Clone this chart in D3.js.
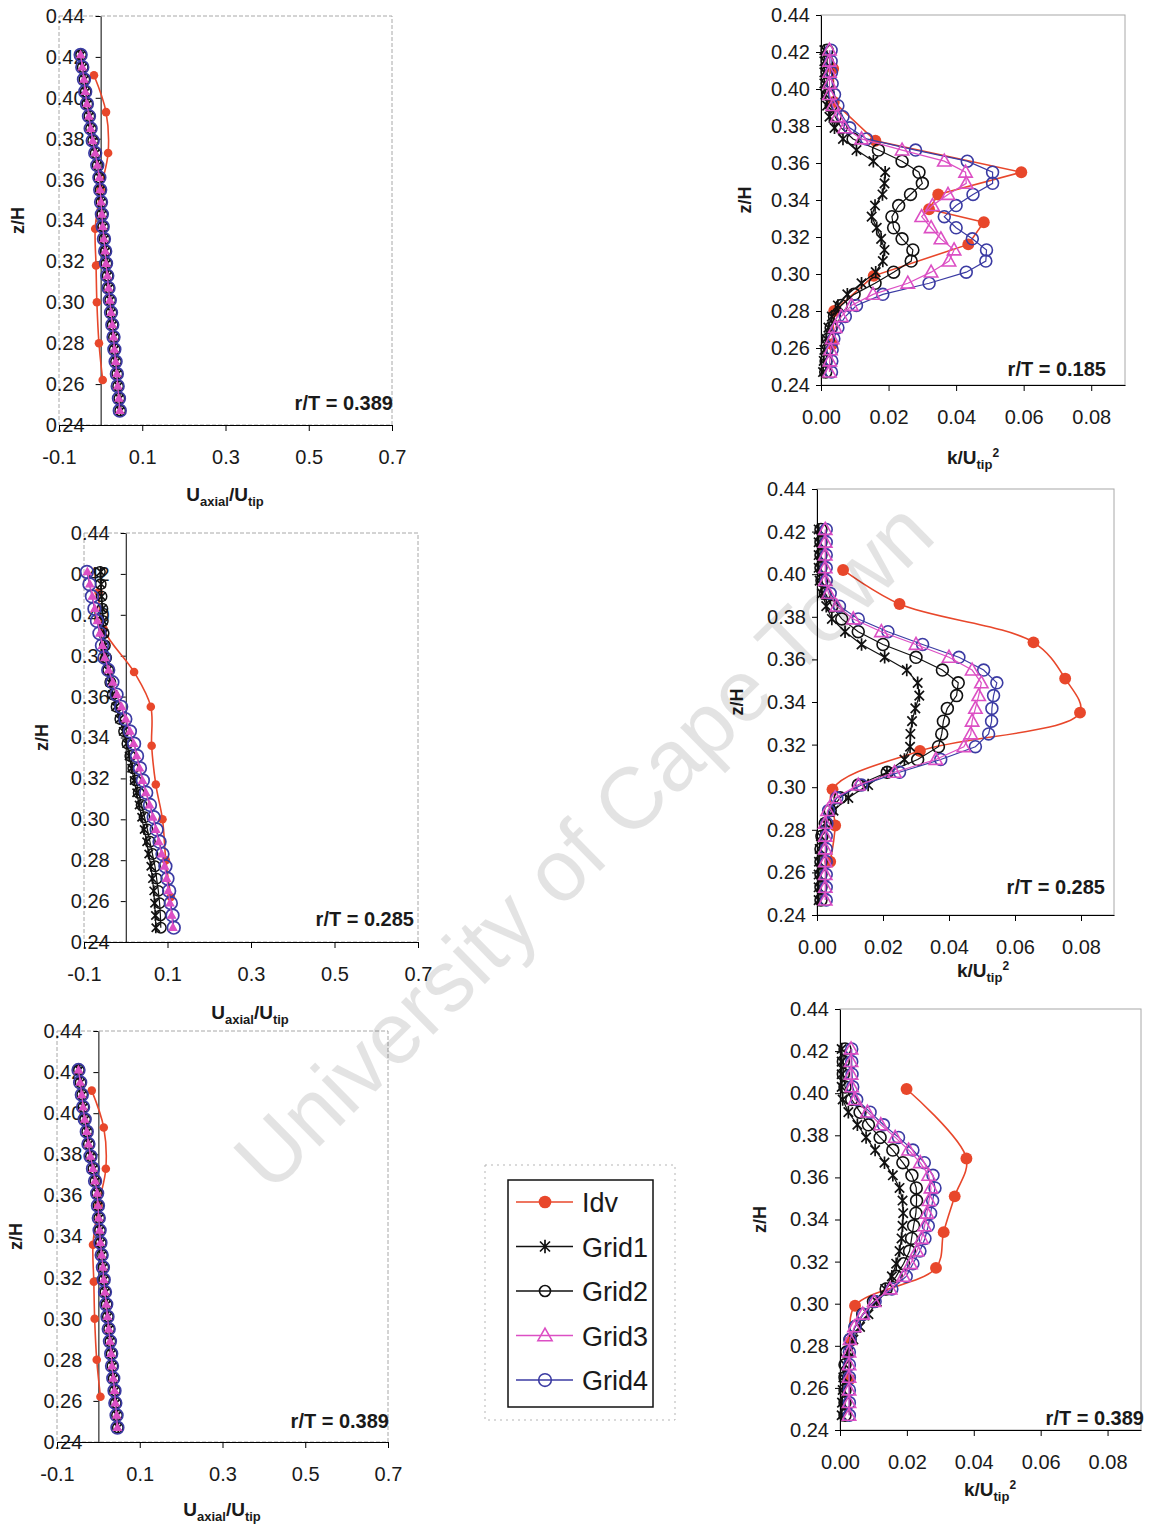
<!DOCTYPE html>
<html>
<head>
<meta charset="utf-8">
<style>
body { margin: 0; background: #fff; }
svg { display: block; font-family: "Liberation Sans", Arial, Helvetica, sans-serif; }
.tick text { font-size: 20px; fill: #1a1a1a; }
.tick line, .domain { stroke: #000; }
</style>
</head>
<body>
<script src="https://cdnjs.cloudflare.com/ajax/libs/d3/7.8.5/d3.min.js"></script>
<script>

// z/H levels of the CFD grid profiles (top to bottom)
var zGrid = [0.421,0.415,0.409,0.403,0.397,0.391,0.385,0.379,0.373,0.367,0.361,0.355,0.349,0.343,0.337,
             0.331,0.325,0.319,0.313,0.307,0.301,0.295,0.289,0.283,0.277,0.271,0.265,0.259,0.253,0.247];

var seriesNames   = ["Idv", "Grid1", "Grid2", "Grid3", "Grid4"];
var seriesColors  = ["#e8472b", "#111111", "#111111", "#dc4fc4", "#3b3ba3"];
var seriesMarkers = ["dot", "star", "ring", "tri", "ring"];

var zTicks = [0.24,0.26,0.28,0.30,0.32,0.34,0.36,0.38,0.40,0.42,0.44];
var uTicks = [-0.1, 0.1, 0.3, 0.5, 0.7];
var kTicks = [0, 0.02, 0.04, 0.06, 0.08];

// --- axial velocity, r/T = 0.389
var p1IdvZ = [0.411,0.393,0.373,0.355,0.336,0.318,0.300,0.280,0.262];
var p1Idv  = [-0.016,0.013,0.018,0.000,-0.013,-0.011,-0.009,-0.004,0.005];
var p1Grid1 = [-0.046,-0.042,-0.038,-0.035,-0.031,-0.026,-0.022,-0.017,-0.011,-0.006,-0.002,0.001,0.003,0.005,0.007,0.010,0.013,0.015,0.018,0.021,0.024,0.027,0.030,0.033,0.035,0.038,0.041,0.043,0.046,0.048];
var p1Grid2 = [-0.047,-0.043,-0.039,-0.036,-0.032,-0.027,-0.023,-0.018,-0.012,-0.007,-0.003,0.000,0.002,0.004,0.006,0.009,0.012,0.014,0.017,0.020,0.023,0.026,0.029,0.032,0.034,0.037,0.040,0.042,0.045,0.047];
var p1Grid3 = [-0.048,-0.044,-0.040,-0.037,-0.033,-0.028,-0.024,-0.019,-0.013,-0.008,-0.003,-0.001,0.001,0.003,0.005,0.008,0.011,0.013,0.016,0.019,0.022,0.025,0.028,0.031,0.033,0.036,0.039,0.041,0.044,0.046];
var p1Grid4 = [-0.048,-0.044,-0.040,-0.037,-0.033,-0.028,-0.024,-0.019,-0.013,-0.008,-0.003,-0.001,0.001,0.003,0.005,0.008,0.011,0.013,0.016,0.019,0.022,0.025,0.028,0.031,0.033,0.036,0.039,0.041,0.044,0.046];

// --- axial velocity, r/T = 0.285
var p2IdvZ = [0.411,0.393,0.372,0.355,0.336,0.317,0.300,0.280,0.262];
var p2Idv  = [-0.065,-0.053,0.020,0.060,0.062,0.072,0.088,0.096,0.108];
var p2Grid1 = [-0.060,-0.059,-0.058,-0.056,-0.054,-0.052,-0.050,-0.047,-0.043,-0.038,-0.032,-0.024,-0.015,-0.006,0.002,0.008,0.014,0.020,0.026,0.032,0.038,0.044,0.050,0.055,0.060,0.064,0.067,0.069,0.071,0.072];
var p2Grid2 = [-0.062,-0.060,-0.058,-0.056,-0.055,-0.053,-0.050,-0.047,-0.042,-0.037,-0.031,-0.022,-0.013,-0.004,0.004,0.011,0.018,0.024,0.031,0.038,0.045,0.052,0.058,0.064,0.070,0.074,0.078,0.081,0.083,0.084];
var p2Grid3 = [-0.092,-0.086,-0.080,-0.074,-0.068,-0.062,-0.056,-0.050,-0.041,-0.031,-0.021,-0.010,0.000,0.010,0.019,0.026,0.033,0.040,0.048,0.057,0.065,0.072,0.079,0.086,0.093,0.098,0.102,0.106,0.110,0.113];
var p2Grid4 = [-0.093,-0.087,-0.081,-0.075,-0.069,-0.063,-0.057,-0.051,-0.042,-0.032,-0.022,-0.011,-0.001,0.010,0.020,0.027,0.034,0.041,0.049,0.058,0.067,0.074,0.081,0.088,0.095,0.100,0.104,0.108,0.112,0.115];

// --- turbulent kinetic energy, r/T = 0.185
var p4IdvZ = [0.411,0.393,0.372,0.355,0.343,0.335,0.328,0.316,0.299,0.280,0.262];
var p4Idv  = [0.0036,0.0038,0.0161,0.0593,0.0347,0.0320,0.0482,0.0436,0.0156,0.0039,0.0033];
var p4Grid1 = [0.0010,0.0010,0.0010,0.0010,0.0013,0.0018,0.0025,0.0040,0.0065,0.0105,0.0155,0.0190,0.0188,0.0182,0.0160,0.0150,0.0165,0.0178,0.0188,0.0183,0.0162,0.0120,0.0078,0.0050,0.0032,0.0022,0.0015,0.0010,0.0008,0.0006];
var p4Grid2 = [0.0018,0.0018,0.0018,0.0018,0.0022,0.0030,0.0042,0.0060,0.0095,0.0170,0.0240,0.0290,0.0300,0.0265,0.0230,0.0210,0.0215,0.0240,0.0272,0.0267,0.0215,0.0160,0.0098,0.0060,0.0040,0.0030,0.0022,0.0018,0.0015,0.0014];
var p4Grid3 = [0.0025,0.0025,0.0025,0.0025,0.0025,0.0035,0.0048,0.0070,0.0120,0.0240,0.0365,0.0428,0.0430,0.0376,0.0330,0.0298,0.0326,0.0355,0.0394,0.0379,0.0326,0.0257,0.0154,0.0090,0.0060,0.0042,0.0033,0.0028,0.0026,0.0025];
var p4Grid4 = [0.0030,0.0030,0.0031,0.0033,0.0040,0.0050,0.0065,0.0085,0.0135,0.0280,0.0433,0.0508,0.0508,0.0450,0.0400,0.0365,0.0400,0.0448,0.0490,0.0488,0.0430,0.0320,0.0183,0.0105,0.0072,0.0050,0.0038,0.0033,0.0032,0.0031];

// --- turbulent kinetic energy, r/T = 0.285
var p5IdvZ = [0.402,0.386,0.368,0.351,0.335,0.317,0.299,0.282,0.265];
var p5Idv  = [0.0079,0.0250,0.0656,0.0752,0.0797,0.0312,0.0047,0.0055,0.0040];
var p5Grid1 = [0.0005,0.0005,0.0005,0.0005,0.0008,0.0015,0.0028,0.0045,0.0085,0.0135,0.0205,0.0272,0.0305,0.0310,0.0298,0.0288,0.0283,0.0282,0.0265,0.0212,0.0155,0.0095,0.0050,0.0025,0.0012,0.0008,0.0006,0.0005,0.0005,0.0005];
var p5Grid2 = [0.0012,0.0012,0.0012,0.0012,0.0015,0.0025,0.0045,0.0075,0.0125,0.0200,0.0300,0.0380,0.0428,0.0423,0.0395,0.0383,0.0378,0.0368,0.0305,0.0213,0.0125,0.0070,0.0040,0.0025,0.0015,0.0012,0.0012,0.0012,0.0012,0.0012];
var p5Grid3 = [0.0025,0.0025,0.0025,0.0025,0.0025,0.0035,0.0060,0.0110,0.0195,0.0300,0.0400,0.0470,0.0498,0.0490,0.0480,0.0470,0.0466,0.0445,0.0360,0.0235,0.0125,0.0055,0.0032,0.0025,0.0025,0.0025,0.0025,0.0025,0.0025,0.0025];
var p5Grid4 = [0.0028,0.0028,0.0028,0.0028,0.0028,0.0040,0.0068,0.0125,0.0215,0.0320,0.0430,0.0505,0.0545,0.0535,0.0530,0.0529,0.0520,0.0480,0.0375,0.0250,0.0135,0.0060,0.0035,0.0030,0.0028,0.0028,0.0028,0.0028,0.0028,0.0028];

// --- turbulent kinetic energy, r/T = 0.389
var p6IdvZ = [0.402,0.369,0.351,0.334,0.317,0.299,0.282,0.264];
var p6Idv  = [0.0199,0.0378,0.0343,0.0310,0.0287,0.0045,0.0030,0.0028];
var p6Grid1 = [0.0005,0.0005,0.0005,0.0005,0.0008,0.0025,0.0052,0.0078,0.0105,0.0133,0.0158,0.0178,0.0187,0.0189,0.0187,0.0184,0.0178,0.0168,0.0155,0.0135,0.0110,0.0085,0.0060,0.0040,0.0025,0.0015,0.0010,0.0008,0.0006,0.0005];
var p6Grid2 = [0.0015,0.0010,0.0010,0.0015,0.0035,0.0060,0.0085,0.0120,0.0158,0.0188,0.0215,0.0228,0.0229,0.0227,0.0220,0.0214,0.0208,0.0190,0.0168,0.0138,0.0100,0.0068,0.0045,0.0030,0.0020,0.0015,0.0015,0.0015,0.0015,0.0015];
var p6Grid3 = [0.0033,0.0033,0.0033,0.0035,0.0045,0.0082,0.0122,0.0165,0.0205,0.0240,0.0265,0.0272,0.0266,0.0260,0.0253,0.0244,0.0230,0.0211,0.0190,0.0150,0.0102,0.0068,0.0043,0.0030,0.0027,0.0027,0.0027,0.0027,0.0027,0.0027];
var p6Grid4 = [0.0035,0.0035,0.0036,0.0038,0.0050,0.0090,0.0130,0.0175,0.0218,0.0252,0.0278,0.0284,0.0277,0.0271,0.0264,0.0254,0.0239,0.0218,0.0198,0.0155,0.0105,0.0070,0.0045,0.0030,0.0028,0.0028,0.0028,0.0028,0.0028,0.0028];

// panel layout (pixel boxes) + which data goes where
var panels = [
  {l: 59,  r: 392,  t: 16,   b: 425,  kind: "u", idvZ: p1IdvZ, vals: [p1Idv, p1Grid1, p1Grid2, p1Grid3, p1Grid4], label: "r/T = 0.389", lx: 393,  ly: 410,  tx: 225, ty: 501,  zx: 18,  smooth: true},
  {l: 84,  r: 418,  t: 533,  b: 942,  kind: "u", idvZ: p2IdvZ, vals: [p2Idv, p2Grid1, p2Grid2, p2Grid3, p2Grid4], label: "r/T = 0.285", lx: 414,  ly: 926,  tx: 250, ty: 1019, zx: 42,  smooth: true},
  {l: 57,  r: 388,  t: 1031, b: 1442, kind: "u", idvZ: p1IdvZ, vals: [p1Idv, p1Grid1, p1Grid2, p1Grid3, p1Grid4], label: "r/T = 0.389", lx: 389,  ly: 1428, tx: 222, ty: 1516, zx: 16,  smooth: true},
  {l: 821, r: 1125, t: 15,   b: 385,  kind: "k", idvZ: p4IdvZ, vals: [p4Idv, p4Grid1, p4Grid2, p4Grid3, p4Grid4], label: "r/T = 0.185", lx: 1106, ly: 376,  tx: 973, ty: 464,  zx: 745, smooth: false},
  {l: 817, r: 1114, t: 489,  b: 915,  kind: "k", idvZ: p5IdvZ, vals: [p5Idv, p5Grid1, p5Grid2, p5Grid3, p5Grid4], label: "r/T = 0.285", lx: 1105, ly: 894,  tx: 983, ty: 977,  zx: 737, smooth: true},
  {l: 840, r: 1141, t: 1009, b: 1430, kind: "k", idvZ: p6IdvZ, vals: [p6Idv, p6Grid1, p6Grid2, p6Grid3, p6Grid4], label: "r/T = 0.389", lx: 1144, ly: 1425, tx: 990, ty: 1496, zx: 760, smooth: true}
];

var width = 1152, height = 1526;

var svg = d3.select("body").append("svg")
    .attr("width", width)
    .attr("height", height);

// s = size factor, w = stroke width, solid = fill open markers too
function marker(g, type, color, s, w, solid) {
  if (type === "dot") {
    g.append("circle").attr("r", 5.5 * s).attr("fill", color);
  } else if (type === "ring") {
    g.append("circle").attr("r", 5.5 * s).attr("fill", "none")
      .attr("stroke", color).attr("stroke-width", w);
  } else if (type === "tri") {
    var a = 6.5 * s;
    g.append("path").attr("d", "M0," + (-a) + "L" + (a * 0.95) + "," + (a * 0.7) + "L" + (-a * 0.95) + "," + (a * 0.7) + "Z")
      .attr("fill", solid ? color : "none").attr("stroke", color).attr("stroke-width", w);
  } else if (type === "star") {
    var r = 5.8 * s, d = r * 0.75;
    g.append("path").attr("d", "M0," + (-r) + "V" + r + "M" + (-d) + "," + (-d) + "L" + d + "," + d + "M" + (-d) + "," + d + "L" + d + "," + (-d))
      .attr("fill", "none").attr("stroke", color).attr("stroke-width", w + 0.1);
  }
}

// marker size / stroke for the narrow velocity panels
var uSize  = [0.78, 0.95, 0.95, 0.6, 1.15];
var uWidth = [0, 1.6, 1.5, 1.4, 1.7];

panels.forEach(function(p) {
  var isU = p.kind === "u";
  var x = d3.scaleLinear().domain(isU ? [-0.1, 0.7] : [0, 0.09]).range([p.l, p.r]);
  var y = d3.scaleLinear().domain([0.24, 0.44]).range([p.b, p.t]);
  var fmt = isU ? d3.format(".1f") : d3.format(".2f");

  var g = svg.append("g");

  // plot frame
  g.append("rect")
    .attr("x", p.l).attr("y", p.t)
    .attr("width", p.r - p.l).attr("height", p.b - p.t)
    .attr("fill", "none").attr("stroke", "#a8a8a8").attr("stroke-width", 1)
    .attr("stroke-dasharray", isU ? "4,2" : null);

  // axes
  g.append("g")
    .attr("transform", "translate(0," + p.b + ")")
    .call(d3.axisBottom(x).tickValues(isU ? uTicks : kTicks)
      .tickFormat(function(d) { return fmt(d).replace("\u2212", "-"); })
      .tickSize(6).tickSizeOuter(0).tickPadding(19));

  g.append("g")
    .attr("transform", "translate(" + x(0) + ",0)")
    .call(d3.axisLeft(y).tickValues(zTicks).tickFormat(d3.format(".2f"))
      .tickSize(5).tickSizeOuter(0).tickPadding(isU ? 11 : 6));

  // series in plotting order: Idv underneath, Grid3 over Grid4
  var order = [0, 1, 2, 4, 3];
  order.forEach(function(si) {
    var vals = p.vals[si];
    var zs = si === 0 ? p.idvZ : zGrid;
    var pts = vals.map(function(v, i) { return [x(v), y(zs[i])]; });
    var line = d3.line().curve(si === 0 && p.smooth ? d3.curveCatmullRom.alpha(0.5) : d3.curveLinear);
    g.append("path")
      .attr("d", line(pts))
      .attr("fill", "none")
      .attr("stroke", seriesColors[si])
      .attr("stroke-width", si === 0 ? 1.6 : 1.2);
    pts.forEach(function(pt) {
      var m = g.append("g").attr("transform", "translate(" + pt[0] + "," + pt[1] + ")");
      if (si === 0) marker(m, "dot", seriesColors[0], isU ? 0.78 : 1.08, 0, false);
      else if (isU) marker(m, seriesMarkers[si], seriesColors[si], uSize[si], uWidth[si], si === 3);
      else marker(m, seriesMarkers[si], seriesColors[si], 1.08, 1.6, false);
    });
  });

  // r/T label
  g.append("text")
    .attr("x", p.lx).attr("y", p.ly)
    .attr("text-anchor", "end")
    .attr("font-size", 20).attr("font-weight", "bold").attr("fill", "#1a1a1a")
    .text(p.label);

  // y title
  g.append("text")
    .attr("transform", "translate(" + p.zx + "," + ((p.t + p.b) / 2) + ") rotate(-90)")
    .attr("text-anchor", "middle").attr("dy", "0.35em")
    .attr("font-size", 18).attr("font-weight", "bold").attr("fill", "#1a1a1a")
    .text("z/H");

  // x title
  var tt = g.append("text")
    .attr("x", p.tx).attr("y", p.ty)
    .attr("text-anchor", "middle")
    .attr("font-size", 19).attr("font-weight", "bold").attr("fill", "#1a1a1a");
  if (isU) {
    tt.append("tspan").text("U");
    tt.append("tspan").attr("font-size", 13).attr("dy", 5).text("axial");
    tt.append("tspan").attr("dy", -5).text("/U");
    tt.append("tspan").attr("font-size", 13).attr("dy", 5).text("tip");
  } else {
    tt.append("tspan").text("k/U");
    tt.append("tspan").attr("font-size", 13).attr("dy", 5).text("tip");
    tt.append("tspan").attr("font-size", 12).attr("dy", -12).text("2");
  }
});

// legend
var leg = svg.append("g");
leg.append("rect").attr("x", 485).attr("y", 1165).attr("width", 190).attr("height", 255)
  .attr("fill", "none").attr("stroke", "#b5b5b5").attr("stroke-dasharray", "2,4");
leg.append("rect").attr("x", 508).attr("y", 1180).attr("width", 145).attr("height", 227)
  .attr("fill", "#fff").attr("stroke", "#111").attr("stroke-width", 1.5);
var legY = d3.scalePoint().domain(seriesNames).range([1202, 1380]);
seriesNames.forEach(function(name, i) {
  var yy = legY(name);
  leg.append("line").attr("x1", 516).attr("x2", 573).attr("y1", yy).attr("y2", yy)
    .attr("stroke", seriesColors[i]).attr("stroke-width", 1.5);
  var m = leg.append("g").attr("transform", "translate(545," + yy + ")");
  marker(m, seriesMarkers[i], seriesColors[i], i === 2 ? 1.0 : 1.15, 1.6, false);
  leg.append("text").attr("x", 582).attr("y", yy + 10)
    .attr("font-size", 27).attr("fill", "#1a1a1a").text(name);
});

// watermark
svg.append("text")
  .attr("transform", "translate(583,845) rotate(-44.5)")
  .attr("text-anchor", "middle").attr("dy", "0.35em")
  .attr("font-size", 87).attr("fill", "#000").attr("fill-opacity", 0.11)
  .text("University of Cape Town");

</script>
</body>
</html>
